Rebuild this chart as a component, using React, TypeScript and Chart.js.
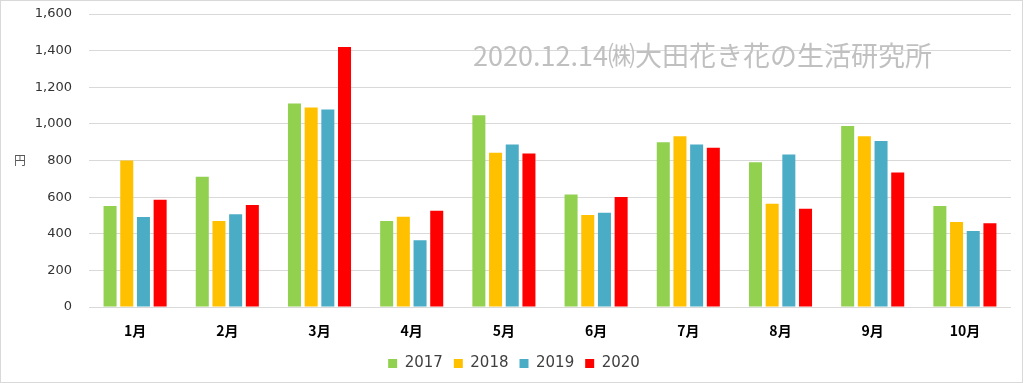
import React, { useEffect, useRef } from 'react';
import { Chart, registerables } from 'chart.js';

Chart.register(...registerables);

const categories = ['1月', '2月', '3月', '4月', '5月', '6月', '7月', '8月', '9月', '10月'];
const seriesNames = ['2017', '2018', '2019', '2020'];
const values2017 = [552, 711, 1111, 470, 1047, 614, 900, 791, 988, 552];
const values2018 = [800, 470, 1089, 493, 842, 502, 933, 564, 933, 464];
const values2019 = [491, 506, 1078, 365, 888, 515, 888, 833, 906, 415];
const values2020 = [585, 557, 1420, 526, 838, 601, 869, 537, 734, 457];
const yMin = 0;
const yMax = 1600;
const yStep = 200;
const seriesColors = ['#92D050', '#FFC000', '#4BACC6', '#FF0000'];
const watermarkText = '2020.12.14㈱大田花き花の生活研究所';
const yUnitText = '円';

const overlayPlugin = {
  id: 'overlayText',
  afterDraw(chart: any) {
    const ctx = chart.ctx;
    ctx.save();
    ctx.fillStyle = '#c0c0c0';
    ctx.font = '27px "Noto Sans CJK JP"';
    ctx.textAlign = 'left';
    ctx.textBaseline = 'middle';
    ctx.fillText(watermarkText, 472, 55);
    ctx.fillStyle = '#595959';
    ctx.font = '12px "Noto Sans CJK JP"';
    ctx.textAlign = 'center';
    ctx.fillText(yUnitText, 19, 159);
    ctx.restore();
  },
};

export default function App() {
  const canvasRef = useRef<HTMLCanvasElement | null>(null);

  useEffect(() => {
    if (!canvasRef.current) return;
    const allValues = [values2017, values2018, values2019, values2020];
    const chart = new Chart(canvasRef.current, {
      type: 'bar',
      data: {
        labels: categories,
        datasets: seriesNames.map((name, i) => ({
          label: name,
          data: allValues[i],
          backgroundColor: seriesColors[i],
          borderWidth: 0,
          barPercentage: 0.78,
          categoryPercentage: 0.724,
        })),
      },
      options: {
        animation: false,
        responsive: false,
        maintainAspectRatio: false,
        layout: { padding: { top: 13, right: 11, left: 16, bottom: 1 } },
        plugins: {
          legend: {
            position: 'bottom',
            labels: {
              boxWidth: 9,
              boxHeight: 9,
              padding: 11,
              color: '#404040',
              font: { family: '"DejaVu Sans"', size: 15 },
            },
          },
          tooltip: { enabled: false },
        },
        scales: {
          x: {
            grid: { display: false },
            border: { display: false },
            ticks: {
              color: '#000000',
              padding: 7,
              font: { family: '"Noto Sans CJK JP"', size: 14, weight: 'bold' },
            },
            afterFit: (scale: any) => {
              scale.height = 38;
            },
          },
          y: {
            min: yMin,
            max: yMax,
            border: { display: false },
            grid: {
              color: '#d9d9d9',
              lineWidth: 1,
              drawTicks: true,
              tickLength: 17,
              tickColor: 'rgba(0,0,0,0)',
            },
            ticks: {
              stepSize: yStep,
              padding: 0,
              color: '#333333',
              font: { family: '"DejaVu Sans"', size: 13 },
              callback: (v: any) => Number(v).toLocaleString('en-US'),
            },
            afterFit: (scale: any) => {
              scale.width = 72;
            },
          },
        },
      },
      plugins: [overlayPlugin],
    });
    return () => chart.destroy();
  }, []);

  return (
    <div
      style={{
        position: 'fixed',
        left: 0,
        top: 0,
        width: 1023,
        height: 383,
        boxSizing: 'border-box',
        border: '1px solid #d9d9d9',
        background: '#ffffff',
      }}
    >
      <canvas ref={canvasRef} width={1021} height={381} style={{ display: 'block' }} />
    </div>
  );
}
